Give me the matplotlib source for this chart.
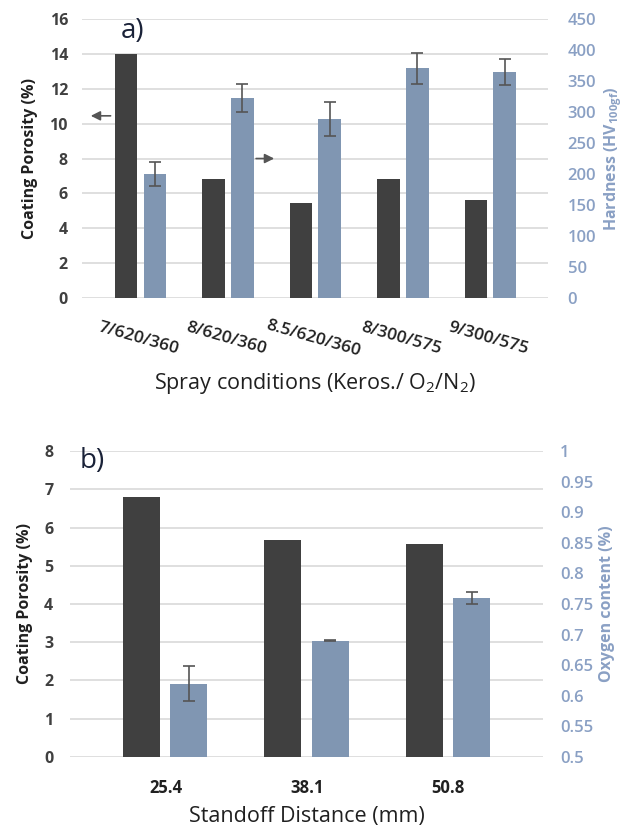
import matplotlib
matplotlib.use("Agg")
import matplotlib.pyplot as plt
import numpy as np

plt.rcParams['font.family'] = ['Open Sans', 'DejaVu Sans']

# Panel a data
spray_labels = ["7/620/360", "8/620/360", "8.5/620/360", "8/300/575", "9/300/575"]
porosity_a = [14.0, 6.8, 5.45, 6.8, 5.6]
hardness = [200, 323, 289, 371, 364]
hardness_err = [20, 23, 28, 25, 21]

# Panel b data
standoff_labels = ["25.4", "38.1", "50.8"]
porosity_b = [6.79, 5.67, 5.57]
oxygen = [0.62, 0.69, 0.76]
oxygen_err = [0.028, 0.001, 0.01]

DARK = '#404040'
BLUE = '#8096B2'
BLUE_TXT = '#8AA0C4'
GRID = '#D9D9D9'
TICK_TXT = '#404040'

fig = plt.figure(figsize=(6.25, 8.3), dpi=100)

def style(ax, ax2, lpad, rpad):
    for a in (ax, ax2):
        for s in a.spines.values():
            s.set_visible(False)
        a.tick_params(length=0)
    ax.set_axisbelow(True)
    ax.yaxis.grid(True, color=GRID, linewidth=1.2)
    ax.tick_params(axis='y', labelsize=11.5, labelcolor=TICK_TXT, pad=lpad)
    for t in ax.get_yticklabels():
        t.set_fontweight('bold')
    ax2.tick_params(axis='y', labelsize=12, labelcolor=BLUE_TXT, pad=rpad)
    for t in ax2.get_yticklabels():
        t.set_fontweight('semibold')

# ---------- Panel a ----------
axa = fig.add_axes([0.131, 0.641, 0.746, 0.336])
axa2 = axa.twinx()
xa = np.arange(len(spray_labels))
w = 0.26
axa.bar(xa - 0.165, porosity_a, width=w, color=DARK, zorder=2)
axa2.bar(xa + 0.165, hardness, width=w, color=BLUE, zorder=2,
         yerr=hardness_err, error_kw=dict(ecolor='#555555', elinewidth=1.2, capsize=4, capthick=1.2))
axa.set_xlim(-0.67, 4.66)
axa.set_ylim(0, 16)
axa.set_yticks(np.arange(0, 17, 2))
axa2.set_ylim(0, 450)
axa2.set_yticks(np.arange(0, 451, 50))
axa.set_xticks(xa)
axa.set_xticklabels(spray_labels, rotation=-16, ha='center', rotation_mode='anchor',
                    fontsize=12.5, fontweight='semibold', color='#202020')
axa.tick_params(axis='x', pad=24)
style(axa, axa2, 10, 14)
axa.set_ylabel("Coating Porosity (%)", fontsize=11.5, fontweight='bold', color='#202020', labelpad=8)
axa2.set_ylabel("Hardness (HV$_{\\mathregular{100gf}}$)", fontsize=11.5, fontweight='bold', color=BLUE_TXT, labelpad=4)
axa.set_xlabel("Spray conditions (Keros./ O$_{\\mathregular{2}}$/N$_{\\mathregular{2}}$)", fontsize=15.5, color='#202020', labelpad=8)
axa.text(-0.09, 15.3, "a)", fontsize=20, color='#1A2238', ha='center', va='center')
axa.annotate("", xy=(-0.6, 10.45), xytext=(-0.31, 10.45),
             arrowprops=dict(arrowstyle='-|>', color='#555555', lw=1.2, mutation_scale=14))
axa.annotate("", xy=(1.56, 8.0), xytext=(1.29, 8.0),
             arrowprops=dict(arrowstyle='-|>', color='#555555', lw=1.2, mutation_scale=14))

# ---------- Panel b ----------
axb = fig.add_axes([0.112, 0.088, 0.757, 0.3686])
axb2 = axb.twinx()
xb = np.arange(len(standoff_labels))
axb.bar(xb - 0.17, porosity_b, width=w, color=DARK, zorder=2)
axb2.bar(xb + 0.165, oxygen, width=w, color=BLUE, zorder=2,
         yerr=oxygen_err, error_kw=dict(ecolor='#555555', elinewidth=1.2, capsize=4, capthick=1.2))
axb.set_xlim(-0.675, 2.67)
axb.set_ylim(0, 8)
axb.set_yticks(np.arange(0, 9, 1))
axb2.set_ylim(0.5, 1.0)
axb2.set_yticks([0.5, 0.55, 0.6, 0.65, 0.7, 0.75, 0.8, 0.85, 0.9, 0.95, 1.0])
axb2.set_yticklabels(['0.5', '0.55', '0.6', '0.65', '0.7', '0.75', '0.8', '0.85', '0.9', '0.95', '1'])
axb.set_xticks(xb)
axb.set_xticklabels(standoff_labels, fontsize=12, fontweight='bold', color='#202020')
axb.tick_params(axis='x', pad=16)
style(axb, axb2, 12, 12)
axb.set_ylabel("Coating Porosity (%)", fontsize=11.5, fontweight='bold', color='#202020', labelpad=8)
axb2.set_ylabel("Oxygen content (%)", fontsize=11.5, fontweight='bold', color=BLUE_TXT, labelpad=4)
axb.set_xlabel("Standoff Distance (mm)", fontsize=15.5, color='#202020', labelpad=6)
axb.text(-0.52, 7.74, "b)", fontsize=20, color='#1A2238', ha='center', va='center')

fig.savefig("out.png", dpi=100)
